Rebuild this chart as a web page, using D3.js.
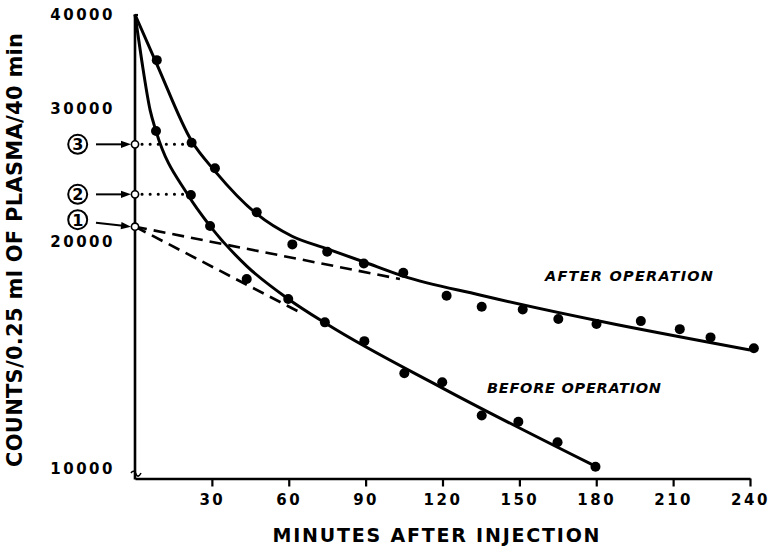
<!DOCTYPE html>
<html>
<head>
<title>Plasma counts after injection</title>
<script src="https://cdn.jsdelivr.net/npm/d3@7"></script>
<style>
  body { margin: 0; background: #fff; }
  text { font-family: "DejaVu Sans", sans-serif; fill: #000; }
</style>
</head>
<body>
<script>
var w = 769, h = 548;

// measured points (minutes after injection, counts)
var afterMin    = [8.5, 22.1, 31.2, 47.5, 61.4, 75, 89.3, 104.7, 121.6, 135.3, 151.3, 165.2, 180.1, 197.4, 212.6, 224.6, 241.5];
var afterCounts = [34800, 27050, 25020, 21880, 19840, 19400, 18720, 18200, 16960, 16400, 16270, 15800, 15560, 15700, 15320, 14940, 14450];
var beforeMin    = [8.2, 21.8, 29.3, 43.6, 59.8, 74.1, 89.5, 105.1, 119.9, 135.3, 149.6, 164.9, 179.7];
var beforeCounts = [28030, 23060, 20980, 17850, 16800, 15640, 14770, 13390, 13030, 11770, 11550, 10850, 10070];

// hand drawn curves
var afterFitMin    = [0, 8.5, 22.1, 31.2, 47.5, 61.3, 75.3, 89.4, 104.6, 134.6, 240];
var afterFitCounts = [40000, 34390, 27190, 24810, 21770, 20340, 19560, 18800, 18010, 17000, 14380];
var beforeFitMin    = [0, 2.6, 5.9, 8.2, 20.7, 29.3, 43.6, 59.8, 75, 120, 180];
var beforeFitCounts = [40000, 34810, 29880, 28030, 23060, 20980, 18570, 16800, 15550, 12800, 10070];

// dashed extrapolations back to zero time
var afterExtMin = [0, 103.4], afterExtCounts = [20940, 17850];
var beforeExtMin = [0, 64], beforeExtCounts = [20940, 16150];

// numbered intercepts on the y axis
var markLabels = ["3", "2", "1"];
var markCounts = [26920, 23110, 20940];
var dottedTo = [22.1, 21.8, null];

var xTicks = [30, 60, 90, 120, 150, 180, 210, 240];
var yTicks = [10000, 20000, 30000, 40000];

var svg = d3.select("body").append("svg").attr("width", w).attr("height", h);

var x = d3.scaleLinear().domain([0, 240]).range([135, 750]);
var y = d3.scaleLog().domain([10000, 40000]).range([469, 14.5]);
var axisY = 478.5;

function zip(a, b) { return a.map(function(d, i) { return [d, b[i]]; }); }

var curve = d3.line()
  .x(function(d) { return x(d[0]); })
  .y(function(d) { return y(d[1]); })
  .curve(d3.curveMonotoneX);
var straight = d3.line()
  .x(function(d) { return x(d[0]); })
  .y(function(d) { return y(d[1]); });

// x axis
var gx = svg.append("g").attr("transform", "translate(0," + axisY + ")")
  .call(d3.axisBottom(x).tickValues(xTicks).tickSize(8).tickSizeOuter(0).tickPadding(8));
gx.select(".domain").attr("stroke-width", 2.6);
gx.selectAll(".tick line").attr("stroke-width", 2.2);
gx.selectAll(".tick text").attr("font-size", 15).attr("font-weight", "bold")
  .attr("letter-spacing", 2.5).attr("font-family", "DejaVu Sans");

// y axis
var gy = svg.append("g").attr("transform", "translate(" + x(0) + ",0)")
  .call(d3.axisLeft(y).tickValues(yTicks).tickSize(8).tickSizeOuter(0).tickPadding(12).tickFormat(d3.format("d")));
gy.select(".domain").remove();
gy.selectAll(".tick line").attr("stroke-width", 2.2)
  .attr("x2", function(d) { return d === 40000 ? 3 : 0; });
gy.selectAll(".tick text").attr("font-size", 15).attr("font-weight", "bold")
  .attr("letter-spacing", 2.5).attr("font-family", "DejaVu Sans");
svg.append("line").attr("x1", x(0)).attr("x2", x(0))
  .attr("y1", y(40000)).attr("y2", axisY + 1)
  .attr("stroke", "#000").attr("stroke-width", 2.6);
// axis break mark
svg.append("path").attr("d", "M131,473 c2,-3 4,-2 5,1 s3,3 5,-1")
  .attr("fill", "none").attr("stroke", "#000").attr("stroke-width", 1.6);

// axis titles
svg.append("text")
  .attr("transform", "translate(22,250) rotate(-90)")
  .attr("text-anchor", "middle")
  .attr("font-size", 21).attr("font-weight", "bold")
  .attr("textLength", 434).attr("lengthAdjust", "spacing")
  .text("COUNTS/0.25 ml OF PLASMA/40 min");
svg.append("text")
  .attr("x", 436).attr("y", 542)
  .attr("text-anchor", "middle")
  .attr("font-size", 19).attr("font-weight", "bold")
  .attr("textLength", 327).attr("lengthAdjust", "spacing")
  .text("MINUTES  AFTER  INJECTION");

// dashed extrapolations
svg.append("path").datum(zip(afterExtMin, afterExtCounts)).attr("d", straight)
  .attr("fill", "none").attr("stroke", "#000").attr("stroke-width", 2.6).attr("stroke-dasharray", "12,7");
svg.append("path").datum(zip(beforeExtMin, beforeExtCounts)).attr("d", straight)
  .attr("fill", "none").attr("stroke", "#000").attr("stroke-width", 2.6).attr("stroke-dasharray", "12,7");

// fitted curves
svg.append("path").datum(zip(afterFitMin, afterFitCounts)).attr("d", curve)
  .attr("fill", "none").attr("stroke", "#000").attr("stroke-width", 3);
svg.append("path").datum(zip(beforeFitMin, beforeFitCounts)).attr("d", curve)
  .attr("fill", "none").attr("stroke", "#000").attr("stroke-width", 3);

// dotted guides
markCounts.forEach(function(c, i) {
  if (dottedTo[i] === null) return;
  svg.append("line").attr("x1", x(0) + 7).attr("x2", x(dottedTo[i]) - 3)
    .attr("y1", y(c)).attr("y2", y(c))
    .attr("stroke", "#000").attr("stroke-width", 3)
    .attr("stroke-linecap", "round").attr("stroke-dasharray", "0.1,8");
});

// data points
svg.selectAll("circle.after").data(zip(afterMin, afterCounts)).enter().append("circle")
  .attr("class", "after").attr("cx", function(d) { return x(d[0]); })
  .attr("cy", function(d) { return y(d[1]); }).attr("r", 5).attr("fill", "#000");
svg.selectAll("circle.before").data(zip(beforeMin, beforeCounts)).enter().append("circle")
  .attr("class", "before").attr("cx", function(d) { return x(d[0]); })
  .attr("cy", function(d) { return y(d[1]); }).attr("r", 5).attr("fill", "#000");

// numbered markers with arrows
var labelDy = [0, 0, -7];
markCounts.forEach(function(c, i) {
  var cy = y(c), ly = cy + labelDy[i], lx = 77.7;
  svg.append("circle").attr("cx", lx).attr("cy", ly).attr("r", 9.5)
    .attr("fill", "#fff").attr("stroke", "#000").attr("stroke-width", 2);
  svg.append("text").attr("x", lx).attr("y", ly).attr("dy", "0.37em")
    .attr("text-anchor", "middle").attr("font-size", 16).attr("font-weight", "bold")
    .text(markLabels[i]);
  var x1 = 96, y1 = ly + (labelDy[i] ? 3 : 0), x2 = x(0) - 4, y2 = cy;
  var a = Math.atan2(y2 - y1, x2 - x1);
  svg.append("line").attr("x1", x1).attr("y1", y1)
    .attr("x2", x2 - 8 * Math.cos(a)).attr("y2", y2 - 8 * Math.sin(a))
    .attr("stroke", "#000").attr("stroke-width", 2);
  var deg = a * 180 / Math.PI;
  svg.append("path").attr("d", "M0,0 L-10,-3.6 L-10,3.6 Z")
    .attr("transform", "translate(" + x2 + "," + y2 + ") rotate(" + deg + ")")
    .attr("fill", "#000");
  svg.append("circle").attr("cx", x(0)).attr("cy", cy).attr("r", 3.6)
    .attr("fill", "#fff").attr("stroke", "#000").attr("stroke-width", 1.6);
});

// series labels
svg.append("text").attr("x", 545).attr("y", 281)
  .attr("font-size", 14.5).attr("font-weight", "bold").attr("font-style", "italic")
  .attr("textLength", 168).attr("lengthAdjust", "spacing")
  .text("AFTER OPERATION");
svg.append("text").attr("x", 487).attr("y", 393)
  .attr("font-size", 14.5).attr("font-weight", "bold").attr("font-style", "italic")
  .attr("textLength", 174).attr("lengthAdjust", "spacing")
  .text("BEFORE OPERATION");
</script>
</body>
</html>
